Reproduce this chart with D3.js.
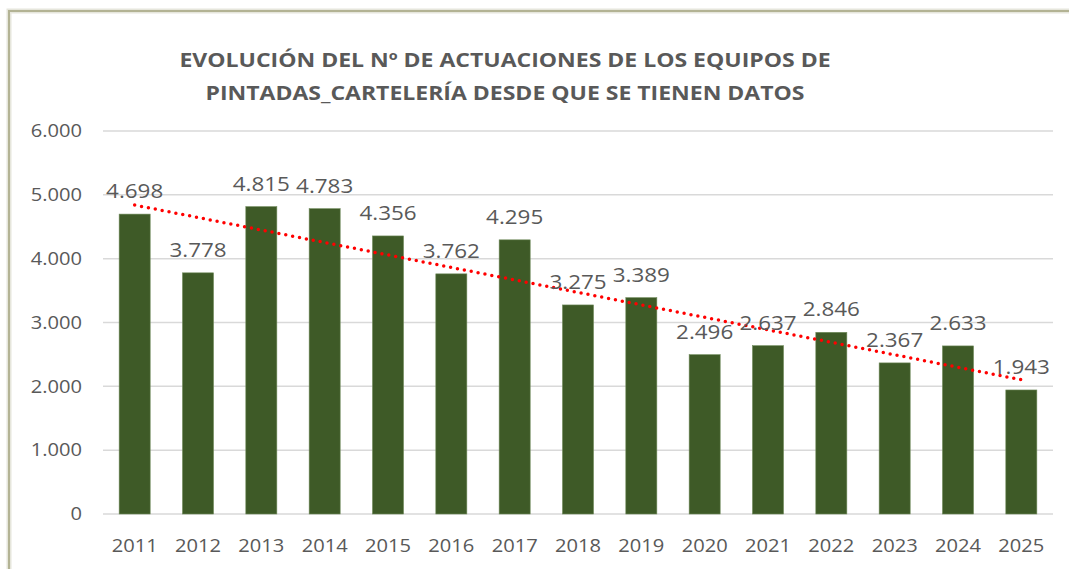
<!DOCTYPE html>
<html>
<head>
<meta charset="utf-8">
<script src="https://cdn.jsdelivr.net/npm/d3@7"></script>
<style>
  body { margin: 0; background: #fff; }
  svg { display: block; }
  text { font-family: "Open Sans", "Liberation Sans", sans-serif; fill: #595959; }
</style>
</head>
<body>
<svg width="1069" height="569"></svg>
<script>
// data
const years = ['2011','2012','2013','2014','2015','2016','2017','2018','2019','2020','2021','2022','2023','2024','2025'];
const actuaciones = [4698, 3778, 4815, 4783, 4356, 3762, 4295, 3275, 3389, 2496, 2637, 2846, 2367, 2633, 1943];
const yTicks = [0, 1000, 2000, 3000, 4000, 5000, 6000];
const titleLines = ['EVOLUCIÓN DEL Nº DE ACTUACIONES DE LOS EQUIPOS DE', 'PINTADAS_CARTELERÍA DESDE QUE SE TIENEN DATOS'];

let svg = d3.select('svg'),
  width = +svg.attr('width'),
  height = +svg.attr('height');

const margin = {top: 131, right: 16, bottom: 55, left: 103};
// the source picture is a bit stretched sideways
const stretch = 1.15;

// frame (top and left edge, like the cropped Excel chart)
svg.append('path')
  .attr('d', 'M9,' + height + ' L9,11 L' + width + ',11')
  .attr('fill', 'none')
  .attr('stroke', '#e6e6dc')
  .attr('stroke-width', 5);
svg.append('path')
  .attr('d', 'M9,' + height + ' L9,11 L' + width + ',11')
  .attr('fill', 'none')
  .attr('stroke', '#b3b394')
  .attr('stroke-width', 2);

let x = d3.scaleBand()
  .domain(years)
  .range([margin.left, width - margin.right])
  .paddingInner(0.51)
  .paddingOuter(0.255);

let y = d3.scaleLinear()
  .domain([0, 6000])
  .range([height - margin.bottom, margin.top]);

const fmt = d3.formatLocale({decimal: ',', thousands: '.', grouping: [3], currency: ['', '']}).format(',');

// helper: text anchored at (px,py), stretched horizontally
function stretched(sel, px, py) {
  return sel.attr('transform', (d, i) => 'translate(' + px(d, i) + ',' + py(d, i) + ') scale(' + stretch + ',1)');
}

// gridlines
svg.append('g')
  .selectAll('line')
  .data(yTicks)
  .enter().append('line')
  .attr('x1', margin.left)
  .attr('x2', width - margin.right)
  .attr('y1', d => y(d))
  .attr('y2', d => y(d))
  .attr('stroke', '#d9d9d9')
  .attr('stroke-width', 1.5);

// y labels
stretched(svg.append('g')
  .selectAll('text')
  .data(yTicks)
  .enter().append('text'), d => 82, d => y(d))
  .attr('dy', '0.36em')
  .attr('text-anchor', 'end')
  .style('font-size', '17.5px')
  .text(d => fmt(d));

// bars
svg.append('g')
  .selectAll('rect')
  .data(actuaciones)
  .enter().append('rect')
  .attr('x', (d, i) => x(years[i]))
  .attr('y', d => y(d))
  .attr('width', x.bandwidth())
  .attr('height', d => y(0) - y(d))
  .attr('fill', '#3e5a27')
  .attr('stroke', '#6f8a5a')
  .attr('stroke-width', 0.6);

// x labels
stretched(svg.append('g')
  .selectAll('text')
  .data(years)
  .enter().append('text'), d => x(d) + x.bandwidth() / 2, d => 552)
  .attr('text-anchor', 'middle')
  .style('font-size', '17.5px')
  .text(d => d);

// linear trend line
const n = actuaciones.length;
const mx = (n - 1) / 2;
const my = d3.mean(actuaciones);
let sxy = 0, sxx = 0;
actuaciones.forEach((v, i) => { sxy += (i - mx) * (v - my); sxx += (i - mx) * (i - mx); });
const slope = sxy / sxx;
const icpt = my - slope * mx;
const cx = i => x(years[i]) + x.bandwidth() / 2;

svg.append('line')
  .attr('x1', cx(0))
  .attr('y1', y(icpt))
  .attr('x2', cx(n - 1))
  .attr('y2', y(icpt + slope * (n - 1)))
  .attr('stroke', '#ff0000')
  .attr('stroke-width', 3.5)
  .attr('stroke-linecap', 'round')
  .attr('stroke-dasharray', '0 7');

// data labels
stretched(svg.append('g')
  .selectAll('text')
  .data(actuaciones)
  .enter().append('text'), (d, i) => cx(i), d => y(d) - 16)
  .attr('text-anchor', 'middle')
  .style('font-size', '19.5px')
  .text(d => fmt(d));

// title
stretched(svg.append('g')
  .selectAll('text')
  .data(titleLines)
  .enter().append('text'), d => 505, (d, i) => 67 + i * 33)
  .attr('text-anchor', 'middle')
  .style('font-size', '20px')
  .style('font-weight', 'bold')
  .text(d => d);
</script>
</body>
</html>
